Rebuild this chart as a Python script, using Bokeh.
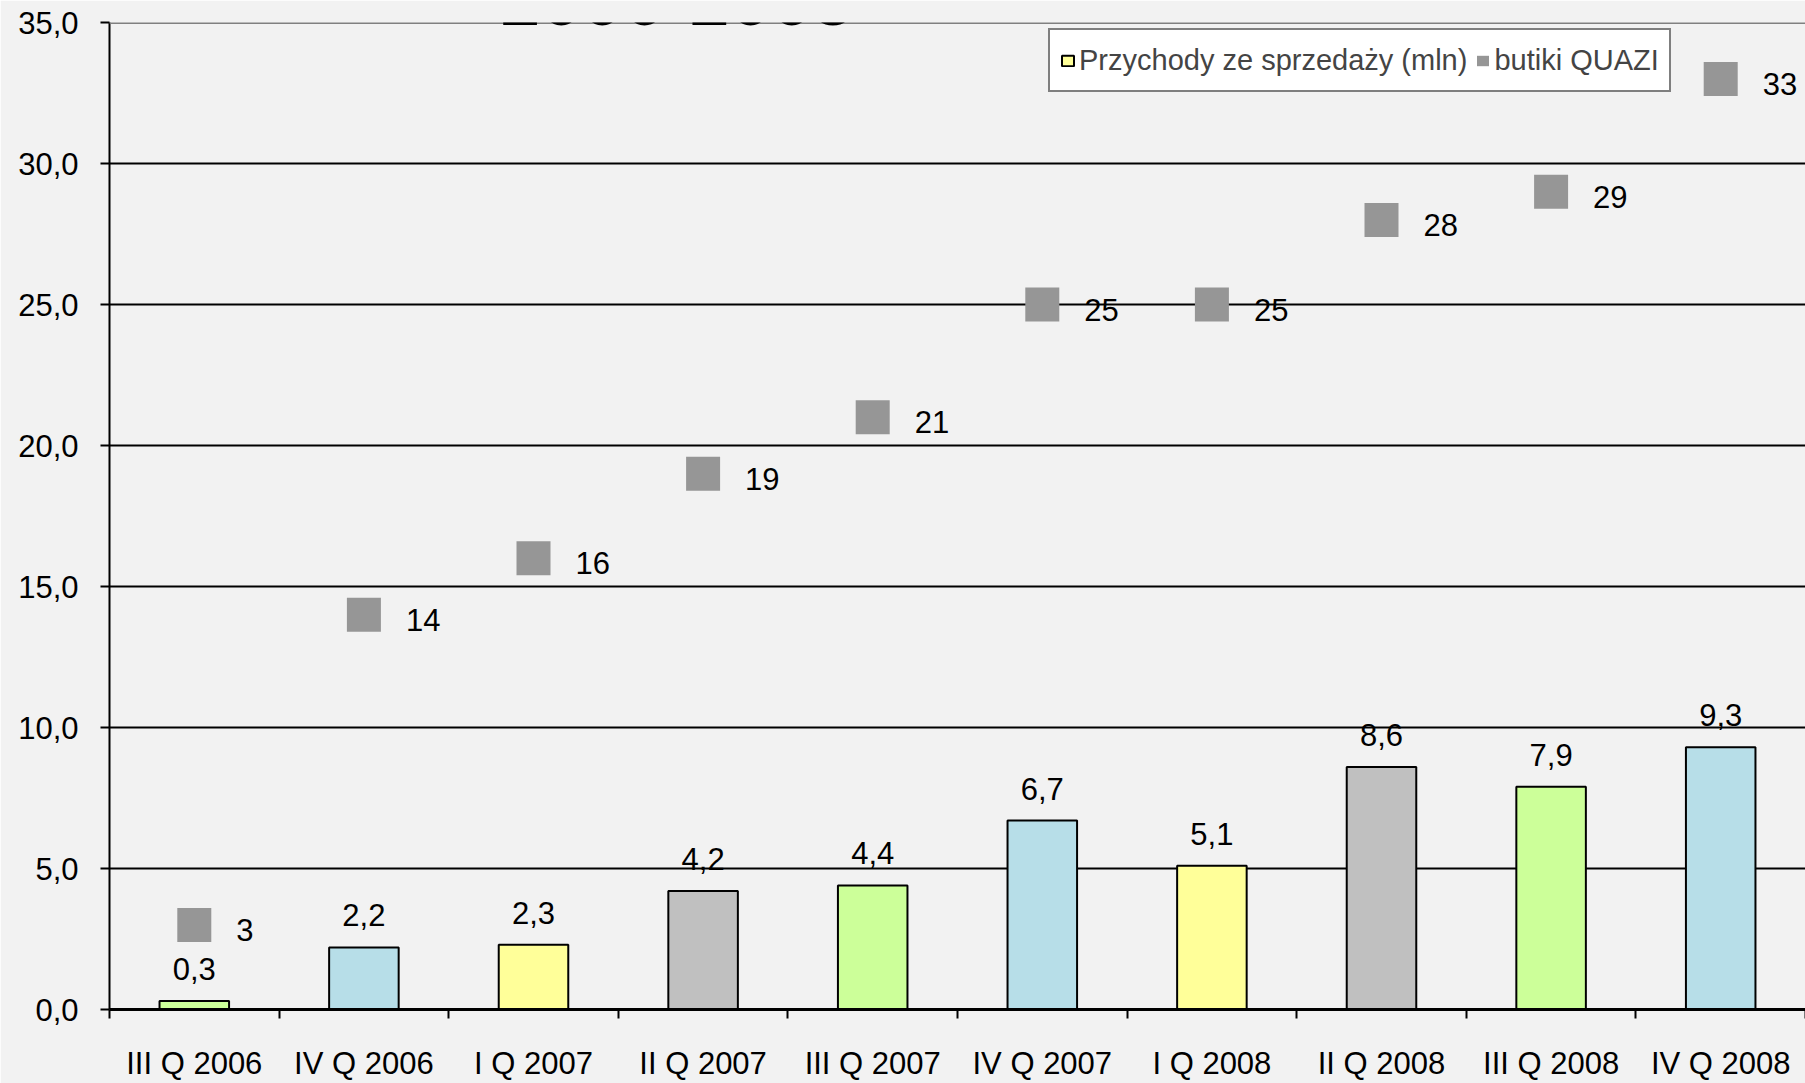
from bokeh.plotting import figure
from bokeh.models import (Range1d, FixedTicker, ColumnDataSource, Legend, LegendItem,
                          Label, Span)
from bokeh.core.properties import value
from bokeh.embed import file_html
from bokeh.resources import INLINE

# ---- data ----
quarters = ["III Q 2006", "IV Q 2006", "I Q 2007", "II Q 2007", "III Q 2007",
            "IV Q 2007", "I Q 2008", "II Q 2008", "III Q 2008", "IV Q 2008"]
revenue = [0.3, 2.2, 2.3, 4.2, 4.4, 6.7, 5.1, 8.6, 7.9, 9.3]
boutiques = [3, 14, 16, 19, 21, 25, 25, 28, 29, 33]
y_ticks = [0, 5, 10, 15, 20, 25, 30, 35]
series_names = ["Przychody ze sprzedaży (mln)", "butiki QUAZI"]
title_text = "2006-2008"

# ---- styles ----
palette = ["#CCFF99", "#B7DEE8", "#FFFF99", "#C0C0C0"]
bar_colors = [palette[i % 4] for i in range(len(quarters))]
FONT = "Liberation Sans"

def fmt(v):
    return f"{v:.1f}".replace(".", ",")

n = len(quarters)
centers = [i + 0.5 for i in range(n)]     # category slots
edges = list(range(n + 1))                # slot boundaries

src = ColumnDataSource(dict(
    pos=centers,
    quarter=quarters,
    revenue=revenue,
    boutiques=boutiques,
    color=bar_colors,
    rev_label=[fmt(v) for v in revenue],
    b_label=[str(v) for v in boutiques],
))

p = figure(width=1805, height=1083,
           x_range=Range1d(0, n), y_range=Range1d(0, 35),
           output_backend="svg", toolbar_location=None,
           min_border_left=109, min_border_right=0,
           min_border_top=22, min_border_bottom=72,
           background_fill_color="#f2f2f2", border_fill_color="#f2f2f2",
           outline_line_color=None)

# y axis
yax = p.yaxis[0]
yax.ticker = FixedTicker(ticks=y_ticks)
yax.major_label_overrides = {t: fmt(t) for t in y_ticks}
yax.axis_line_color = "black"
yax.axis_line_width = 2
yax.major_tick_line_color = "black"
yax.major_tick_line_width = 2
yax.major_tick_out = 9
yax.major_tick_in = 0
yax.minor_tick_line_color = None
yax.major_label_standoff = 22
yax.major_label_text_font = FONT
yax.major_label_text_font_size = "31px"
yax.major_label_text_color = "black"

# x axis: labels at category centres, ticks at category boundaries
xax = p.xaxis[0]
xax.ticker = FixedTicker(ticks=centers, minor_ticks=edges)
xax.major_label_overrides = {c: q for c, q in zip(centers, quarters)}
xax.axis_line_color = "black"
xax.axis_line_width = 3
xax.major_tick_line_color = None
xax.major_tick_out = 0
xax.major_tick_in = 0
xax.minor_tick_line_color = "black"
xax.minor_tick_line_width = 2
xax.minor_tick_out = 9
xax.minor_tick_in = 0
xax.major_label_standoff = 27
xax.major_label_text_font = FONT
xax.major_label_text_font_size = "31px"
xax.major_label_text_color = "black"

p.xgrid.visible = False
p.ygrid.ticker = FixedTicker(ticks=y_ticks)
p.ygrid.grid_line_color = "black"
p.ygrid.grid_line_width = 2

# top line of plot area
p.add_layout(Span(location=35, dimension="width", line_color="#808080", line_width=3))

bars = p.vbar(x="pos", top="revenue", width=0.41, source=src,
              fill_color="color", line_color="black", line_width=2)
pts = p.scatter(x="pos", y="boutiques", marker="square", size=34, source=src,
                fill_color="#969696", line_color=None)
# legend swatch for the boutique series (zero-area, draws nothing on the chart)
swatch = p.vbar(x="pos", top="boutiques", bottom="boutiques", width=0, source=src,
                fill_color="#969696", line_color=None)

p.text(x="pos", y="revenue", text="rev_label", source=src,
       text_align="center", text_baseline="alphabetic", y_offset=-32,
       text_font=value(FONT), text_font_size="31px", text_color="black")
p.text(x="pos", y="boutiques", text="b_label", source=src,
       text_align="left", text_baseline="alphabetic", x_offset=42, y_offset=5,
       text_font=value(FONT), text_font_size="31px", text_color="black")

legend = Legend(items=[LegendItem(label=series_names[0], renderers=[bars], index=2),
                       LegendItem(label=series_names[1], renderers=[swatch], index=0)],
                orientation="horizontal", location=(939, 917),
                border_line_color="black", border_line_width=2,
                background_fill_color="white", background_fill_alpha=1,
                label_text_font=FONT, label_text_font_size="29px",
                label_height=40,
                glyph_width=15, glyph_height=13, label_standoff=4,
                spacing=8, padding=10, margin=0)
p.add_layout(legend)

p.add_layout(Label(x=567, y=1010, x_units="screen", y_units="screen",
                   text=title_text, text_align="center", text_baseline="alphabetic",
                   text_font=FONT, text_font_size="74px", text_color="black",
                   level="overlay"))

open("out.html", "w").write(file_html(p, INLINE))
